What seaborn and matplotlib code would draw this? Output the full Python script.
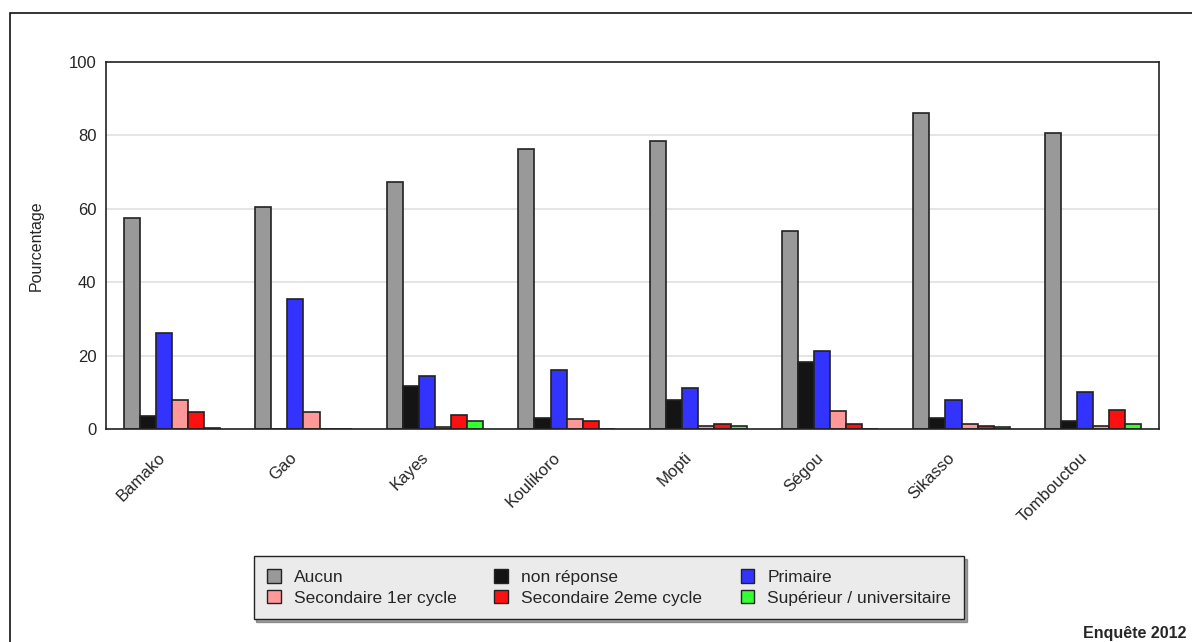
import matplotlib
matplotlib.use("Agg")
import matplotlib.pyplot as plt
import matplotlib.transforms as mtransforms
from matplotlib.patches import Rectangle, Patch
import pandas as pd
import seaborn as sns

# Data (percent)
regions = ["Bamako", "Gao", "Kayes", "Koulikoro", "Mopti", "Ségou", "Sikasso", "Tombouctou"]
levels = ["Aucun", "non réponse", "Primaire", "Secondaire 1er cycle",
          "Secondaire 2eme cycle", "Supérieur / universitaire"]
aucun = [57.4, 60.6, 67.4, 76.2, 78.5, 54.0, 86.2, 80.6]
non_reponse = [3.5, 0.0, 11.7, 3.1, 7.9, 18.3, 3.1, 2.3]
primaire = [26.1, 35.3, 14.4, 16.1, 11.3, 21.3, 7.9, 10.2]
sec_1er = [7.9, 4.5, 0.5, 2.6, 0.9, 4.9, 1.4, 0.9]
sec_2eme = [4.5, 0.0, 3.8, 2.2, 1.4, 1.3, 0.9, 5.2]
superieur = [0.4, 0.0, 2.3, 0.0, 0.9, 0.0, 0.5, 1.4]
colors = ["#999999", "#141414", "#3333ff", "#ff9999", "#ff1010", "#33ff33"]

series = [aucun, non_reponse, primaire, sec_1er, sec_2eme, superieur]
rows = []
for lev, vals in zip(levels, series):
    for reg, v in zip(regions, vals):
        rows.append({"region": reg, "niveau": lev, "pct": v})
df = pd.DataFrame(rows)

sns.set_style("white")
plt.rcParams["font.family"] = ["Liberation Sans", "DejaVu Sans"]
plt.rcParams["font.size"] = 12

fig = plt.figure(figsize=(11.92, 6.42), dpi=100)
ax = fig.add_axes([106 / 1192, 1 - 429 / 642, (1159 - 106) / 1192, (429 - 62) / 642])

sns.barplot(data=df, x="region", y="pct", hue="niveau", order=regions,
            hue_order=levels, palette=colors, width=0.734, edgecolor="#222222",
            linewidth=1.2, saturation=1, ax=ax, legend=False)

ax.set_ylim(0, 100)
ax.set_xlim(-0.5, len(regions) - 0.5)
ax.set_yticks([0, 20, 40, 60, 80, 100])
ax.yaxis.grid(True, color="#e0e0e0", linewidth=1.2)
ax.set_axisbelow(True)
ax.set_xlabel("")
ax.set_ylabel("Pourcentage", fontsize=11.5, labelpad=18)
ax.tick_params(axis="y", direction="in", length=8, width=1, color="#222222", labelsize=12, pad=7)
ax.tick_params(axis="x", which="major", length=0, labelsize=12, pad=15)
ax.set_xticks([i + 0.5 for i in range(len(regions) - 1)], minor=True)
ax.tick_params(axis="x", which="minor", direction="in", length=6, width=1, color="#222222")
shift = mtransforms.ScaledTranslation(-14 / 100, 0, fig.dpi_scale_trans)
for lab in ax.get_xticklabels():
    lab.set_rotation(45)
    lab.set_ha("right")
    lab.set_rotation_mode("anchor")
    lab.set_transform(lab.get_transform() + shift)
for sp in ax.spines.values():
    sp.set_color("#222222")
    sp.set_linewidth(1.2)

handles = [Patch(facecolor=c, edgecolor="#222222", linewidth=1.0) for c in colors]
order = [0, 3, 1, 4, 2, 5]
leg = fig.legend([handles[i] for i in order], [levels[i] for i in order],
                 loc="center", bbox_to_anchor=(609 / 1192, 1 - 587.5 / 642),
                 ncol=3, frameon=True, fancybox=False, shadow=True,
                 facecolor="#ebebeb", edgecolor="#222222", framealpha=1,
                 fontsize=12.5, handlelength=0.8, handleheight=0.8,
                 handletextpad=0.75, columnspacing=2.2, labelspacing=0.3,
                 borderpad=0.75)

# outer frame of the original graphic
fig.patches.append(Rectangle((10 / 1192, -0.1), 1.2, (642 - 13) / 642 + 0.1,
                             transform=fig.transFigure, fill=False,
                             edgecolor="#111111", linewidth=1.2))

fig.text(1083 / 1192, 1 - 638 / 642, "Enquête 2012", fontsize=11.5,
         fontweight="bold", ha="left", va="baseline")

fig.savefig("out.png", dpi=100)
